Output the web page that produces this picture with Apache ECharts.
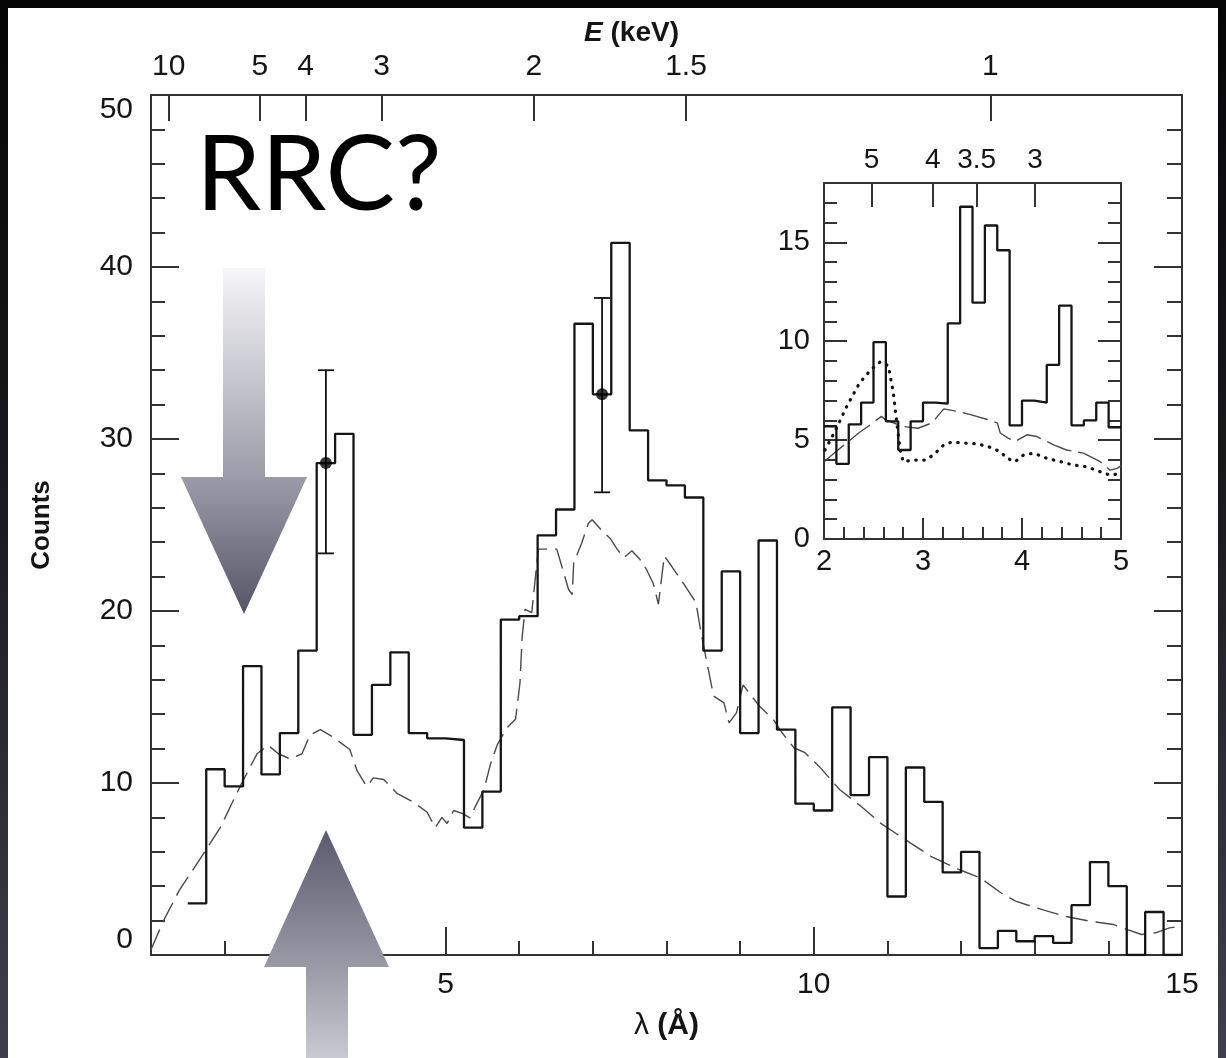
<!DOCTYPE html>
<html>
<head>
<meta charset="utf-8">
<script src="https://cdn.jsdelivr.net/npm/echarts@6/dist/echarts.min.js"></script>
<style>
  html, body { margin: 0; padding: 0; background: #000; }
  #chart { width: 1226px; height: 1058px; }
</style>
</head>
<body>
<div id="chart"></div>
<script>
// ---- Full-band spectrum: 0.25 Å bins (left edges + closing edge) ----
const mainEdges = [1.5, 1.75, 2.0, 2.25, 2.5, 2.75, 3.0, 3.25, 3.5, 3.75, 4.0, 4.25, 4.5, 4.75,
  5.0, 5.25, 5.5, 5.75, 6.0, 6.25, 6.5, 6.75, 7.0, 7.25, 7.5, 7.75, 8.0, 8.25, 8.5, 8.75,
  9.0, 9.25, 9.5, 9.75, 10.0, 10.25, 10.5, 10.75, 11.0, 11.25, 11.5, 11.75, 12.0, 12.25,
  12.5, 12.75, 13.0, 13.25, 13.5, 13.75, 14.0, 14.25, 14.5, 14.75, 15.0];
const mainCounts = [3.0, 10.8, 9.8, 16.8, 10.5, 12.9, 17.7, 28.6, 30.3, 12.8, 15.7, 17.6, 12.9, 12.6,
  12.5, 7.4, 9.5, 19.5, 19.7, 24.4, 25.9, 36.7, 32.6, 41.4, 30.5, 27.6, 27.3, 26.6, 17.7, 22.3,
  12.9, 24.1, 13.1, 8.8, 8.4, 14.4, 9.3, 11.5, 3.4, 10.9, 8.9, 4.8, 6.0, 0.4,
  1.4, 0.8, 1.1, 0.7, 2.9, 5.4, 4.0, 0, 2.5, 0];

// Representative error bars
const errLambda = [3.375, 7.125];
const errCounts = [28.6, 32.6];
const errLow = [23.35, 26.9];
const errHigh = [34.0, 38.2];

// Model curve (dashed)
const modelLambda = [1.0, 1.17, 1.39, 1.53, 1.73, 1.94, 2.21, 2.44, 2.59, 2.73,
  2.89, 3.05, 3.16, 3.3, 3.46, 3.7, 3.8, 3.93, 4.02, 4.16,
  4.34, 4.56, 4.75, 4.86, 4.95, 5.02, 5.11, 5.24, 5.33, 5.4,
  5.52, 5.61, 5.7, 5.83, 5.95, 6.01, 6.04, 6.08, 6.17, 6.26,
  6.38, 6.51, 6.67, 6.72, 6.74, 6.85, 6.94, 6.99, 7.14, 7.24,
  7.33, 7.42, 7.53, 7.64, 7.73, 7.82, 7.89, 7.97, 8.07, 8.23,
  8.4, 8.47, 8.54, 8.64, 8.78, 8.85, 8.95, 9.04, 9.26, 9.45,
  9.57, 9.73, 9.88, 10.07, 10.35, 10.64, 10.93, 11.31, 11.59, 11.97,
  12.26, 12.54, 12.74, 13.02, 13.4, 13.74, 14.07, 14.26, 14.45, 14.64,
  14.83, 14.98];
const modelCounts = [0.3, 2.0, 3.8, 4.7, 6.0, 7.4, 9.8, 11.7, 12.2, 11.7,
  11.4, 11.7, 12.8, 13.1, 12.7, 11.95, 10.7, 9.8, 10.3, 10.2,
  9.4, 8.9, 8.3, 7.4, 8.0, 7.65, 8.4, 8.2, 7.97, 8.6,
  9.6, 11.1, 12.2, 13.2, 13.7, 15.8, 18.5, 20.1, 19.9, 23.6,
  23.6, 23.6, 21.25, 20.96, 22.8, 23.97, 25.1, 25.3, 24.6, 24.2,
  23.6, 23.1, 23.5, 23.0, 22.4, 21.6, 20.4, 23.2, 22.6, 21.6,
  20.5, 18.7, 17.2, 15.05, 14.66, 13.5, 14.08, 15.7, 14.47, 13.7,
  12.92, 12.05, 11.76, 10.98, 9.62, 8.65, 7.59, 6.52, 5.74, 4.97,
  4.49, 3.62, 3.13, 2.74, 2.26, 1.97, 1.77, 1.48, 1.19, 1.29,
  1.58, 1.67];

// ---- Inset: 2–5 Å at 0.125 Å binning ----
const insetEdges = [2.0, 2.125, 2.25, 2.375, 2.5, 2.625, 2.75, 2.875, 3.0, 3.125, 3.25, 3.375,
  3.5, 3.625, 3.75, 3.875, 4.0, 4.125, 4.25, 4.375, 4.5, 4.625, 4.75, 4.875, 5.0];
const insetCounts = [5.7, 3.8, 5.8, 6.9, 9.95, 5.95, 4.5, 5.95, 6.9, 6.85, 10.9, 16.8,
  11.95, 15.85, 14.6, 5.75, 7.0, 6.9, 8.8, 11.8, 5.75, 6.0, 6.9, 5.65];

const insetModelLambda = [2.0, 2.08, 2.35, 2.47, 2.58, 2.62, 2.79, 2.95, 3.09, 3.21, 3.34, 3.48,
  3.65, 3.75, 3.78, 3.86, 3.93, 4.05, 4.15, 4.32, 4.45, 4.62, 4.79, 4.89, 4.96, 5.0];
const insetModelCounts = [3.9, 4.25, 5.36, 5.78, 6.2, 6.03, 5.7, 5.6, 5.87, 6.58, 6.46, 6.29,
  6.04, 5.87, 5.36, 5.1, 4.93, 5.27, 5.18, 4.76, 4.5, 4.34, 3.91, 3.48, 3.57, 3.7];

const insetAltLambda = [2.01, 2.11, 2.23, 2.36, 2.48, 2.57, 2.65, 2.70, 2.735, 2.77, 2.80, 2.90,
  3.02, 3.105, 3.21, 3.29, 3.41, 3.545, 3.66, 3.78, 3.85, 3.93, 4.015, 4.12, 4.25, 4.39,
  4.52, 4.655, 4.79, 4.89, 5.0];
const insetAltCounts = [4.5, 5.44, 6.71, 7.9, 8.59, 8.96, 8.76, 7.4, 5.87, 4.5, 3.91, 3.99,
  3.99, 4.25, 4.76, 4.9, 4.85, 4.81, 4.67, 4.42, 4.08, 3.91, 4.25, 4.34, 4.08, 3.91,
  3.74, 3.65, 3.4, 3.23, 3.31];

// ---- Axis tick labels ----
const mainLambdaLabels = [5, 10, 15];
const mainEnergyLabels = [10, 5, 4, 3, 2, 1.5, 1];     // keV, top axis
const insetLambdaLabels = [2, 3, 4, 5];
const insetEnergyLabels = [5, 4, 3.5, 3];             // keV, inset top axis
const countLabelsInset = [0, 5, 10, 15];

const HC = 12.398; // keV·Å, E = hc / λ
const toLambda = (e) => HC / e;
const energyFormatter = (list) => (v) => {
  let best = list[0], d = Infinity;
  list.forEach((e) => { const dd = Math.abs(toLambda(e) - v); if (dd < d) { d = dd; best = e; } });
  return String(best);
};

const stepData = (edges, counts) => {
  const pts = counts.map((c, i) => [edges[i], c]);
  pts.push([edges[edges.length - 1], counts[counts.length - 1]]);
  return pts;
};
const pairs = (xs, ys) => xs.map((x, i) => [x, ys[i]]);

const FONT = 'Liberation Sans, Arial, Helvetica, sans-serif';
const AX = '#333';
const TXT = '#151515';
const line = (w) => ({ show: true, onZero: false, lineStyle: { color: AX, width: w || 2 } });
const noLine = { show: false, onZero: false };
const tick = (len, vals) => {
  const t = { show: true, inside: true, length: len, lineStyle: { color: AX, width: 2 } };
  if (vals) t.customValues = vals;
  return t;
};
const noLabel = { show: false };

const main = { left: 151, top: 95, width: 1031, height: 860 };
const inset = { left: 824, top: 183, width: 297, height: 356 };

const chart = echarts.init(document.getElementById('chart'), null, { renderer: 'canvas' });

chart.setOption({
  animation: false,
  grid: [
    Object.assign({ containLabel: false }, main),
    Object.assign({ containLabel: false }, main),
    Object.assign({ containLabel: false }, inset),
    Object.assign({ containLabel: false }, inset)
  ],
  xAxis: [
    { // 0: wavelength, bottom
      gridIndex: 0, type: 'value', position: 'bottom', min: 1, max: 15,
      axisLine: line(2), axisTick: tick(28, [5, 10]),
      axisLabel: { customValues: mainLambdaLabels, fontSize: 30, color: TXT, fontFamily: FONT, margin: 15 },
      splitLine: { show: false },
      name: '{l|λ} {a|(Å)}', nameLocation: 'middle', nameGap: 56,
      nameTextStyle: { color: TXT, fontFamily: FONT, fontSize: 30,
        rich: { l: { fontSize: 30, fontFamily: FONT, color: TXT }, a: { fontSize: 30, fontWeight: 'bold', fontFamily: FONT, color: TXT } } }
    },
    { // 1: energy, top
      gridIndex: 0, type: 'value', position: 'top', min: 1, max: 15,
      axisLine: line(2), axisTick: tick(26, mainEnergyLabels.map(toLambda)),
      axisLabel: { customValues: mainEnergyLabels.map(toLambda), formatter: energyFormatter(mainEnergyLabels),
        fontSize: 30, color: TXT, fontFamily: FONT, margin: 13 },
      splitLine: { show: false },
      name: '{e|E} {k|(keV)}', nameLocation: 'middle', nameGap: 48,
      nameTextStyle: { color: TXT, fontFamily: FONT, fontSize: 28, padding: [0, 70, 0, 0],
        rich: { e: { fontSize: 28, fontStyle: 'italic', fontWeight: 'bold', fontFamily: FONT, color: TXT },
                k: { fontSize: 28, fontWeight: 'bold', fontFamily: FONT, color: TXT } } }
    },
    { // 2: minor wavelength ticks
      gridIndex: 1, type: 'value', position: 'bottom', min: 1, max: 15, interval: 1,
      axisLine: noLine, axisTick: tick(14), axisLabel: noLabel, splitLine: { show: false }
    },
    { // 3: inset wavelength, bottom
      gridIndex: 2, type: 'value', position: 'bottom', min: 2, max: 5,
      axisLine: line(2), axisTick: tick(21, [3, 4]),
      axisLabel: { customValues: insetLambdaLabels, fontSize: 29, color: TXT, fontFamily: FONT, margin: 8 },
      splitLine: { show: false }
    },
    { // 4: inset energy, top
      gridIndex: 2, type: 'value', position: 'top', min: 2, max: 5,
      axisLine: line(2), axisTick: tick(24, insetEnergyLabels.map(toLambda)),
      axisLabel: { customValues: insetEnergyLabels.map(toLambda), formatter: energyFormatter(insetEnergyLabels),
        fontSize: 28, color: TXT, fontFamily: FONT, margin: 9 },
      splitLine: { show: false }
    },
    { // 5: inset minor wavelength ticks
      gridIndex: 3, type: 'value', position: 'bottom', min: 2, max: 5, interval: 0.2,
      axisLine: noLine, axisTick: tick(12), axisLabel: noLabel, splitLine: { show: false }
    }
  ],
  yAxis: [
    { // 0: counts, left
      gridIndex: 0, type: 'value', position: 'left', min: 0, max: 50, interval: 10,
      axisLine: line(2), axisTick: tick(28),
      minorTick: { show: true, splitNumber: 5, length: 14, lineStyle: { color: AX, width: 2 } },
      axisLabel: { fontSize: 30, color: TXT, fontFamily: FONT, margin: 18,
        verticalAlignMinLabel: 'bottom', verticalAlignMaxLabel: 'top' },
      splitLine: { show: false }, minorSplitLine: { show: false },
      name: 'Counts', nameLocation: 'middle', nameGap: 96, nameRotate: 90,
      nameTextStyle: { color: TXT, fontFamily: FONT, fontSize: 26, fontWeight: 'bold' }
    },
    { // 1: counts, right frame
      gridIndex: 1, type: 'value', position: 'right', min: 0, max: 50, interval: 10,
      axisLine: line(2), axisTick: tick(28),
      minorTick: { show: true, splitNumber: 5, length: 15, lineStyle: { color: AX, width: 2 } },
      axisLabel: noLabel, splitLine: { show: false }, minorSplitLine: { show: false }
    },
    { // 2: inset counts, left
      gridIndex: 2, type: 'value', position: 'left', min: 0, max: 18,
      axisLine: line(2), axisTick: tick(23, [5, 10, 15]),
      axisLabel: { customValues: countLabelsInset, fontSize: 29, color: TXT, fontFamily: FONT, margin: 14 },
      splitLine: { show: false }
    },
    { // 3: inset counts, right
      gridIndex: 2, type: 'value', position: 'right', min: 0, max: 18,
      axisLine: line(2), axisTick: tick(23, [5, 10, 15]),
      axisLabel: noLabel, splitLine: { show: false }
    },
    { // 4: inset minor ticks, left
      gridIndex: 3, type: 'value', position: 'left', min: 0, max: 18, interval: 1,
      axisLine: noLine, axisTick: tick(13), axisLabel: noLabel, splitLine: { show: false }
    },
    { // 5: inset minor ticks, right
      gridIndex: 3, type: 'value', position: 'right', min: 0, max: 18, interval: 1,
      axisLine: noLine, axisTick: tick(13), axisLabel: noLabel, splitLine: { show: false }
    }
  ],
  series: [
    {
      name: 'spectrum', type: 'line', xAxisIndex: 0, yAxisIndex: 0, step: 'end',
      data: stepData(mainEdges, mainCounts), showSymbol: false, symbol: 'none',
      lineStyle: { color: '#151515', width: 2.3 }, z: 3
    },
    {
      name: 'model', type: 'line', xAxisIndex: 0, yAxisIndex: 0,
      data: pairs(modelLambda, modelCounts), showSymbol: false, symbol: 'none',
      lineStyle: { color: '#4a4a4a', width: 1.4, type: [22, 8] }, z: 2
    },
    {
      name: 'errors', type: 'custom', xAxisIndex: 0, yAxisIndex: 0,
      data: errLambda.map((x, i) => [x, errLow[i], errHigh[i]]),
      encode: { x: 0, y: [1, 2] },
      renderItem: (params, api) => {
        const x = api.value(0);
        const lo = api.coord([x, api.value(1)]);
        const hi = api.coord([x, api.value(2)]);
        const half = 8;
        const st = { stroke: '#111', lineWidth: 1.8 };
        return {
          type: 'group',
          children: [
            { type: 'line', shape: { x1: hi[0], y1: hi[1], x2: lo[0], y2: lo[1] }, style: st },
            { type: 'line', shape: { x1: hi[0] - half, y1: hi[1], x2: hi[0] + half, y2: hi[1] }, style: st },
            { type: 'line', shape: { x1: lo[0] - half, y1: lo[1], x2: lo[0] + half, y2: lo[1] }, style: st }
          ]
        };
      },
      z: 4
    },
    {
      name: 'points', type: 'scatter', xAxisIndex: 0, yAxisIndex: 0,
      data: pairs(errLambda, errCounts), symbol: 'circle', symbolSize: 12,
      itemStyle: { color: '#000' }, z: 5
    },
    {
      name: 'inset spectrum', type: 'line', xAxisIndex: 3, yAxisIndex: 2, step: 'end',
      data: stepData(insetEdges, insetCounts), showSymbol: false, symbol: 'none',
      lineStyle: { color: '#151515', width: 2.3 }, z: 3
    },
    {
      name: 'inset model', type: 'line', xAxisIndex: 3, yAxisIndex: 2,
      data: pairs(insetModelLambda, insetModelCounts), showSymbol: false, symbol: 'none',
      lineStyle: { color: '#4a4a4a', width: 1.4, type: [26, 7] }, z: 2
    },
    {
      name: 'inset alt model', type: 'line', xAxisIndex: 3, yAxisIndex: 2,
      data: pairs(insetAltLambda, insetAltCounts), showSymbol: false, symbol: 'none',
      lineStyle: { color: '#111', width: 3.2, type: [0.5, 7.5], cap: 'round' }, z: 2
    }
  ],
  graphic: [
    { // slide backdrop
      type: 'rect', silent: true, z: -20,
      shape: { x: 0, y: 0, width: 1226, height: 1058 },
      style: { fill: { type: 'linear', x: 0, y: 0, x2: 0, y2: 1, global: false,
        colorStops: [{ offset: 0, color: '#050506' }, { offset: 0.5, color: '#1c1c20' }, { offset: 1, color: '#40404c' }] } }
    },
    { // white figure panel
      type: 'rect', silent: true, z: -10,
      shape: { x: 8, y: 8, width: 1210, height: 1050 },
      style: { fill: '#ffffff' }
    },
    { // annotation text
      type: 'text', silent: true, z: 60,
      style: { text: 'RRC?', x: 196, y: 176, font: '104px Lato, "Open Sans", sans-serif',
        fill: '#000', align: 'left', verticalAlign: 'middle' }
    },
    { // downward arrow
      type: 'polygon', silent: true, z: 60,
      shape: { points: [[223, 268], [265, 268], [265, 477], [307, 477], [244, 614], [181, 477], [223, 477]] },
      style: { fill: { type: 'linear', x: 0, y: 0, x2: 0, y2: 1,
        colorStops: [{ offset: 0, color: '#f6f6f8' }, { offset: 0.6, color: '#9c9caa' }, { offset: 1, color: '#555567' }] } }
    },
    { // upward arrow
      type: 'polygon', silent: true, z: 60,
      shape: { points: [[326, 830], [389, 967], [348, 967], [348, 1058], [306, 1058], [306, 967], [264, 967]] },
      style: { fill: { type: 'linear', x: 0, y: 0, x2: 0, y2: 1,
        colorStops: [{ offset: 0, color: '#5a5a6d' }, { offset: 0.6, color: '#9a9aa7' }, { offset: 1, color: '#c9c9d1' }] } }
    }
  ]
});
</script>
</body>
</html>
